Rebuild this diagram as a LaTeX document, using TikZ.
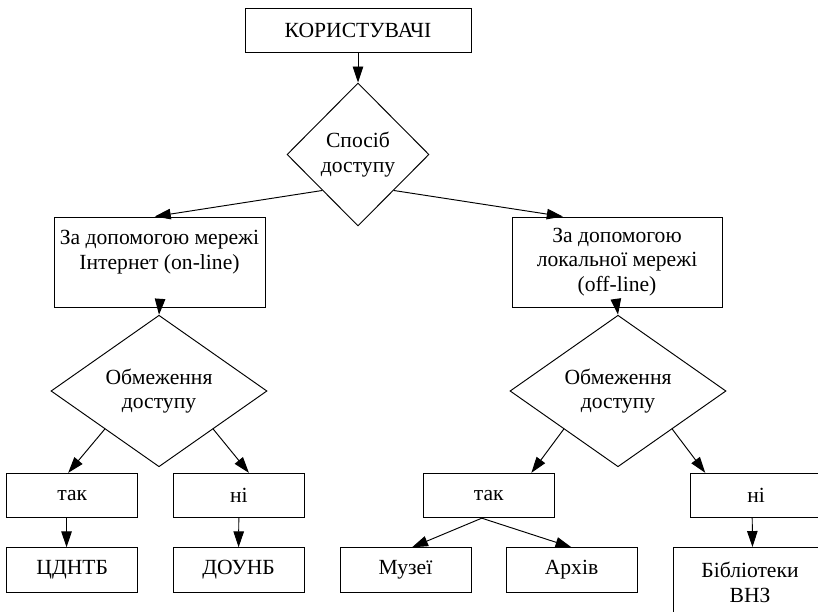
\documentclass[tikz,border=0pt]{standalone}
\usepackage{fontspec}
\setmainfont{Liberation Serif}
\usetikzlibrary{shapes.geometric,arrows.meta}

\begin{document}
\begin{tikzpicture}[x=1pt,y=-1pt,line width=0.95pt,
    >={Triangle[length=16pt,width=10.5pt]},
    every node/.style={font=\fontsize{21.6}{24.5}\selectfont,align=center},
    box/.style={draw,rectangle,inner sep=0pt,minimum height=44.4pt},
    choice/.style={draw,diamond,inner sep=0pt}]
  \path[use as bounding box,clip] (0,0) rectangle (818,612);
  \draw
    (358,30.5) node[box,minimum width=226pt] (users){КОРИСТУВАЧІ}
    (358,154.5) node[choice,minimum width=142pt,minimum height=143pt] (access){Спосіб\\доступу}
    (159.5,262) node[box,minimum width=211pt,minimum height=90pt] (online){За допомогою мережі\\Інтернет (on-line)\\\mbox{}}
    (617,262) node[box,minimum width=210pt,minimum height=90pt] (offline){За допомогою\\локальної мережі\\(off-line)}
    (159,391) node[choice,minimum width=216pt,minimum height=116pt] (limL){Обмеження\\доступу}
    (618,391) node[choice,minimum width=216pt,minimum height=116pt] (limR){Обмеження\\доступу}
    (72.2,495.5) node[box,minimum width=131pt] (yesL){так}
    (238.8,495.5) node[box,minimum width=131pt] (noL){ні}
    (488.7,495.5) node[box,minimum width=131pt] (yesR){так}
    (756.2,495.5) node[box,minimum width=131pt] (noR){ні}
    (72.2,570) node[box,minimum width=131pt] (cdntb){ЦДНТБ}
    (238.6,570) node[box,minimum width=131pt] (dounb){ДОУНБ}
    (405.5,570) node[box,minimum width=131pt] (museums){Музеї}
    (571.5,570) node[box,minimum width=131pt] (archive){Архів}
    (750,582.5) node[box,minimum width=153.4pt,minimum height=70pt] (libs){Бібліотеки\\ВНЗ};
  \begin{scope}[->]
    \draw (users.south) to (access.north);
    \draw (access.south west) to (online.96);
    \draw (access.south east) to (offline.140);
    \draw (online.south) to (limL.north);
    \draw (offline.south) to (limR.north);
    \draw (limL.south west) to (yesL.100);
    \draw (limL.south east) to (noL.66);
    \draw (limR.south west) to (yesR.28);
    \draw (limR.south east) to (noR.156);
    \draw (yesL.256) to (cdntb.104);
    \draw (noL.south) to (dounb.north);
    \draw (yesR.253) to (museums.74);
    \draw (yesR.253) to (archive.north);
    \draw (noR.260) to (libs.86);
  \end{scope}
\end{tikzpicture}
\end{document}
